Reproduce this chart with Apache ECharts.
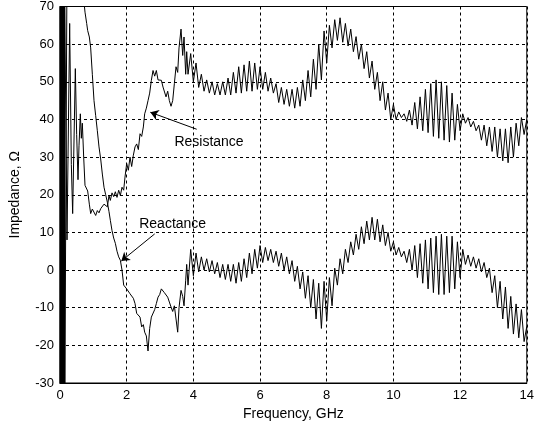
<!DOCTYPE html>
<html><head><meta charset="utf-8">
<script src="https://cdn.jsdelivr.net/npm/echarts@6/dist/echarts.min.js"></script>
<style>html,body{margin:0;padding:0;background:#fff}#c{width:537px;height:427px}</style>
</head><body><div id="c"></div>
<script>
// ---- axis ticks ----
const xTicks = [0, 2, 4, 6, 8, 10, 12, 14];
const yTicks = [-30, -20, -10, 0, 10, 20, 30, 40, 50, 60, 70];

// ---- very low frequency band (wild oscillation) ----
const bandFreq = [0.00,0.01,0.02,0.03,0.04,0.05,0.06,0.07,0.08,0.09,0.10,0.11,0.12,0.13,0.14];
const resistanceBand = [72,-32,72,-32,72,-32,72,-32,72,-32,72,-32,72,-32,72];
const reactanceBand  = [-32,72,-32,72,-32,72,-32,72,-32,72,-32,72,-32,72,-32];

// ---- low frequency part (GHz) ----
const lowFreq = [
  0.15,0.21,0.29,0.34,0.38,0.46,0.50,0.54,0.57,0.61,
  0.64,0.67,0.71,0.75,0.80,0.83,0.88,0.92,0.97,1.02,
  1.07,1.12,1.17,1.22,1.27,1.32,1.37,1.42,1.47,1.51,
  1.56,1.61,1.66,1.71,1.76,1.81,1.86,1.91,1.95,2.00,
  2.05,2.10,2.15,2.20,2.25,2.30,2.35,2.40,2.45,2.50,
  2.54,2.59,2.64,2.69,2.74,2.79,2.84,2.89,2.94,2.99,
  3.04,3.09,3.13,3.18,3.23,3.28,3.33,3.38,3.43,3.48,
  3.53,3.57,3.63,3.68,3.72,3.77,3.80
];
const resistanceLow = [
  72,8,65.5,28,15,53.5,36,24,33,41.5,
  35,39,30,22.5,23,21,17.5,15,16.2,15.8,
  14.5,15.8,15.2,16.3,16.4,17.5,17.2,16.8,19.8,18.5,
  20.5,19.5,20.8,19.3,21.2,19.8,22,21.2,24.7,28.3,
  26.5,30,27.5,30.5,32.7,33.5,32,36.2,35.5,38,
  41.5,43,45,47,50.4,53,51.5,53,50.5,50,
  50.4,48.6,49,46,47.5,45,43.5,45,49.5,54,
  52.5,59,64,57,61.9,52,58
];
const reactanceLow = [
  -32,80,95,98,98,96,94,90,87,83,
  79,76,72,68.5,65.5,63.6,61.9,59,52,45,
  41,37,32.7,29.5,25.5,22,20,18,15.5,13.2,
  10.5,8.5,7.1,5,3.5,2.6,0,-4,-3.5,-5,
  -4.5,-6.3,-6,-7.5,-8.9,-11.5,-11,-12.5,-15.1,-14.5,
  -16.5,-17.5,-21.5,-15.5,-12.5,-13,-10.5,-8.9,-7.2,-6.5,
  -5,-4.5,-6,-5.8,-7.2,-8.5,-9.8,-11,-9.5,-13,
  -16.5,-10,-5.4,-7,-9.5,-2.7,1.5
];

// ---- oscillating part (GHz) ----
const highFreq = [
  3.84,3.92,4.00,4.08,4.16,4.24,4.32,4.40,
  4.48,4.56,4.64,4.72,4.80,4.88,4.96,5.04,
  5.12,5.20,5.28,5.36,5.44,5.52,5.60,5.68,
  5.76,5.84,5.92,6.00,6.08,6.16,6.24,6.32,
  6.40,6.48,6.56,6.64,6.72,6.80,6.88,6.96,
  7.04,7.12,7.20,7.28,7.36,7.44,7.52,7.60,
  7.68,7.76,7.84,7.92,8.00,8.08,8.16,8.24,
  8.32,8.40,8.48,8.56,8.64,8.72,8.80,8.88,
  8.96,9.04,9.12,9.20,9.28,9.36,9.44,9.52,
  9.60,9.68,9.76,9.84,9.92,10.00,10.08,10.16,
  10.24,10.32,10.40,10.48,10.56,10.64,10.72,10.80,
  10.88,10.96,11.04,11.12,11.20,11.28,11.36,11.44,
  11.52,11.60,11.68,11.76,11.84,11.92,12.00,12.08,
  12.16,12.24,12.32,12.40,12.48,12.56,12.64,12.72,
  12.80,12.88,12.96,13.04,13.12,13.20,13.28,13.36,
  13.44,13.52,13.60,13.68,13.76,13.84,13.92,14.00
];
const resistanceHigh = [
  52,57.5,50,55,48.5,52,47.5,50.5,
  47,50,46.5,49.5,46.5,50,46.5,51,
  46.5,52.5,47,54,47,54.5,47.5,55.5,
  47.5,55,48,54,48,52.5,47.5,51,
  47,49.5,44.5,48.5,44,48,43.5,48,
  43,48.5,43.5,50.5,45,53,46,56,
  48,60,50.5,63.5,55,65,59,66.5,
  61,67,60.5,65.5,59.5,64,58,62,
  56,60,53.5,58,51,55.5,48,52.5,
  45,50,42.5,47,40,44,40,42,
  40.5,41.5,39.5,42.5,38.5,44.5,37.5,46,
  37,48,36.5,49.5,35.5,50.5,35,50,
  34.5,49,34,47,34.5,44,37,41.5,
  39,40.5,38,39.5,37,38.5,34.5,38.5,
  33,38,31.5,38,30,37.5,29,37.5,
  28.5,38,30,39,33,40.5,36,40
];
const reactanceHigh = [
  -4,5.5,-1.5,4.5,-0.5,3.5,0,3,
  -0.5,2.5,-1,2,-2,1.5,-2.5,1.5,
  -3,1.5,-3.5,2,-3,3,-2,4.5,
  -1,5.5,0.5,6.5,2,6,2.5,5.5,
  2,5,1,4.5,0,3.5,-1,2.5,
  -3,1,-5,-0.5,-7.5,-1.5,-10,-2.5,
  -13,-3.5,-15.5,-3,-13.5,-2,-9.5,0.5,
  -4,3,-1,5.5,2,7.5,4,9.5,
  5.5,11.5,7,13,8,14,8,13.5,
  7.5,12,6.5,10,5,7.5,4,6,
  3.5,5,2,5.5,0,6.5,-2,7,
  -3.5,8,-5,8.5,-6,9,-6.5,9.5,
  -6.5,9,-6,9,-5,7.5,-2,5.5,
  1.5,4,1,3.5,0.5,3,-0.5,2,
  -2,0.5,-6,-1.5,-10,-3,-13,-4.5,
  -15.5,-7,-17,-9,-18,-10.5,-19,-15
];

// ---- annotations (data coordinates) ----
const resistanceLabel = {text: 'Resistance', at: [4.47, 33.9], arrowFrom: [4.10, 37.4], arrowTo: [2.71, 41.9]};
const reactanceLabel  = {text: 'Reactance',  at: [3.38, 12.1], arrowFrom: [2.84, 9.6],  arrowTo: [1.84, 2.4]};

function pairs(f, v) { const n = Math.min(f.length, v.length); const out = []; for (let i = 0; i < n; i++) out.push([f[i], v[i]]); return out; }
const resData = pairs(bandFreq, resistanceBand).concat(pairs(lowFreq, resistanceLow), pairs(highFreq, resistanceHigh));
const reaData = pairs(bandFreq.map(f => f + 0.005), reactanceBand).concat(pairs(lowFreq, reactanceLow), pairs(highFreq, reactanceHigh));

const FONT = 'Arial, "Liberation Sans", sans-serif';
function annot(a) {
  return {
    markLine: {
      silent: true, animation: false,
      symbol: ['none', 'arrow'], symbolSize: 8,
      lineStyle: {color: '#000', width: 1, type: 'solid'},
      label: {show: false},
      data: [[{coord: a.arrowFrom}, {coord: a.arrowTo}]]
    },
    markPoint: {
      silent: true, animation: false,
      symbol: 'circle', symbolSize: 1,
      itemStyle: {color: 'rgba(0,0,0,0)'},
      label: {show: true, position: 'inside', color: '#000', fontSize: 14, fontFamily: FONT, formatter: '{b}'},
      data: [{name: a.text, coord: a.at}]
    }
  };
}

const chart = echarts.init(document.getElementById('c'), null, {renderer: 'canvas'});
const splitStyle = {show: true, lineStyle: {color: '#000', width: 1, type: [3, 3]}};
chart.setOption({
  animation: false,
  backgroundColor: '#fff',
  grid: {left: 57, right: 5, top: 6, bottom: 44, show: true, borderColor: '#000', borderWidth: 1, backgroundColor: '#fff'},
  xAxis: {
    type: 'value', min: xTicks[0], max: xTicks[xTicks.length - 1], interval: 2,
    name: 'Frequency, GHz', nameLocation: 'middle', nameGap: 22,
    nameTextStyle: {color: '#000', fontSize: 14, fontFamily: FONT},
    axisLine: {show: true, onZero: false, lineStyle: {color: '#000', width: 1}},
    axisTick: {show: false},
    axisLabel: {color: '#000', fontSize: 13, fontFamily: FONT, margin: 6},
    splitLine: splitStyle
  },
  yAxis: {
    type: 'value', min: yTicks[0], max: yTicks[yTicks.length - 1], interval: 10,
    name: 'Impedance, Ω', nameLocation: 'middle', nameGap: 38, nameRotate: 90,
    nameTextStyle: {color: '#000', fontSize: 14, fontFamily: FONT},
    axisLine: {show: true, onZero: false, lineStyle: {color: '#000', width: 1}},
    axisTick: {show: false},
    axisLabel: {color: '#000', fontSize: 13, fontFamily: FONT, margin: 6},
    splitLine: splitStyle
  },
  series: [
    Object.assign({type: 'line', name: 'Resistance', data: resData, showSymbol: false, symbol: 'none',
      clip: true, lineStyle: {color: '#000', width: 1}, z: 3}, annot(resistanceLabel)),
    Object.assign({type: 'line', name: 'Reactance', data: reaData, showSymbol: false, symbol: 'none',
      clip: true, lineStyle: {color: '#000', width: 1}, z: 3}, annot(reactanceLabel))
  ]
});
</script>
</body></html>
